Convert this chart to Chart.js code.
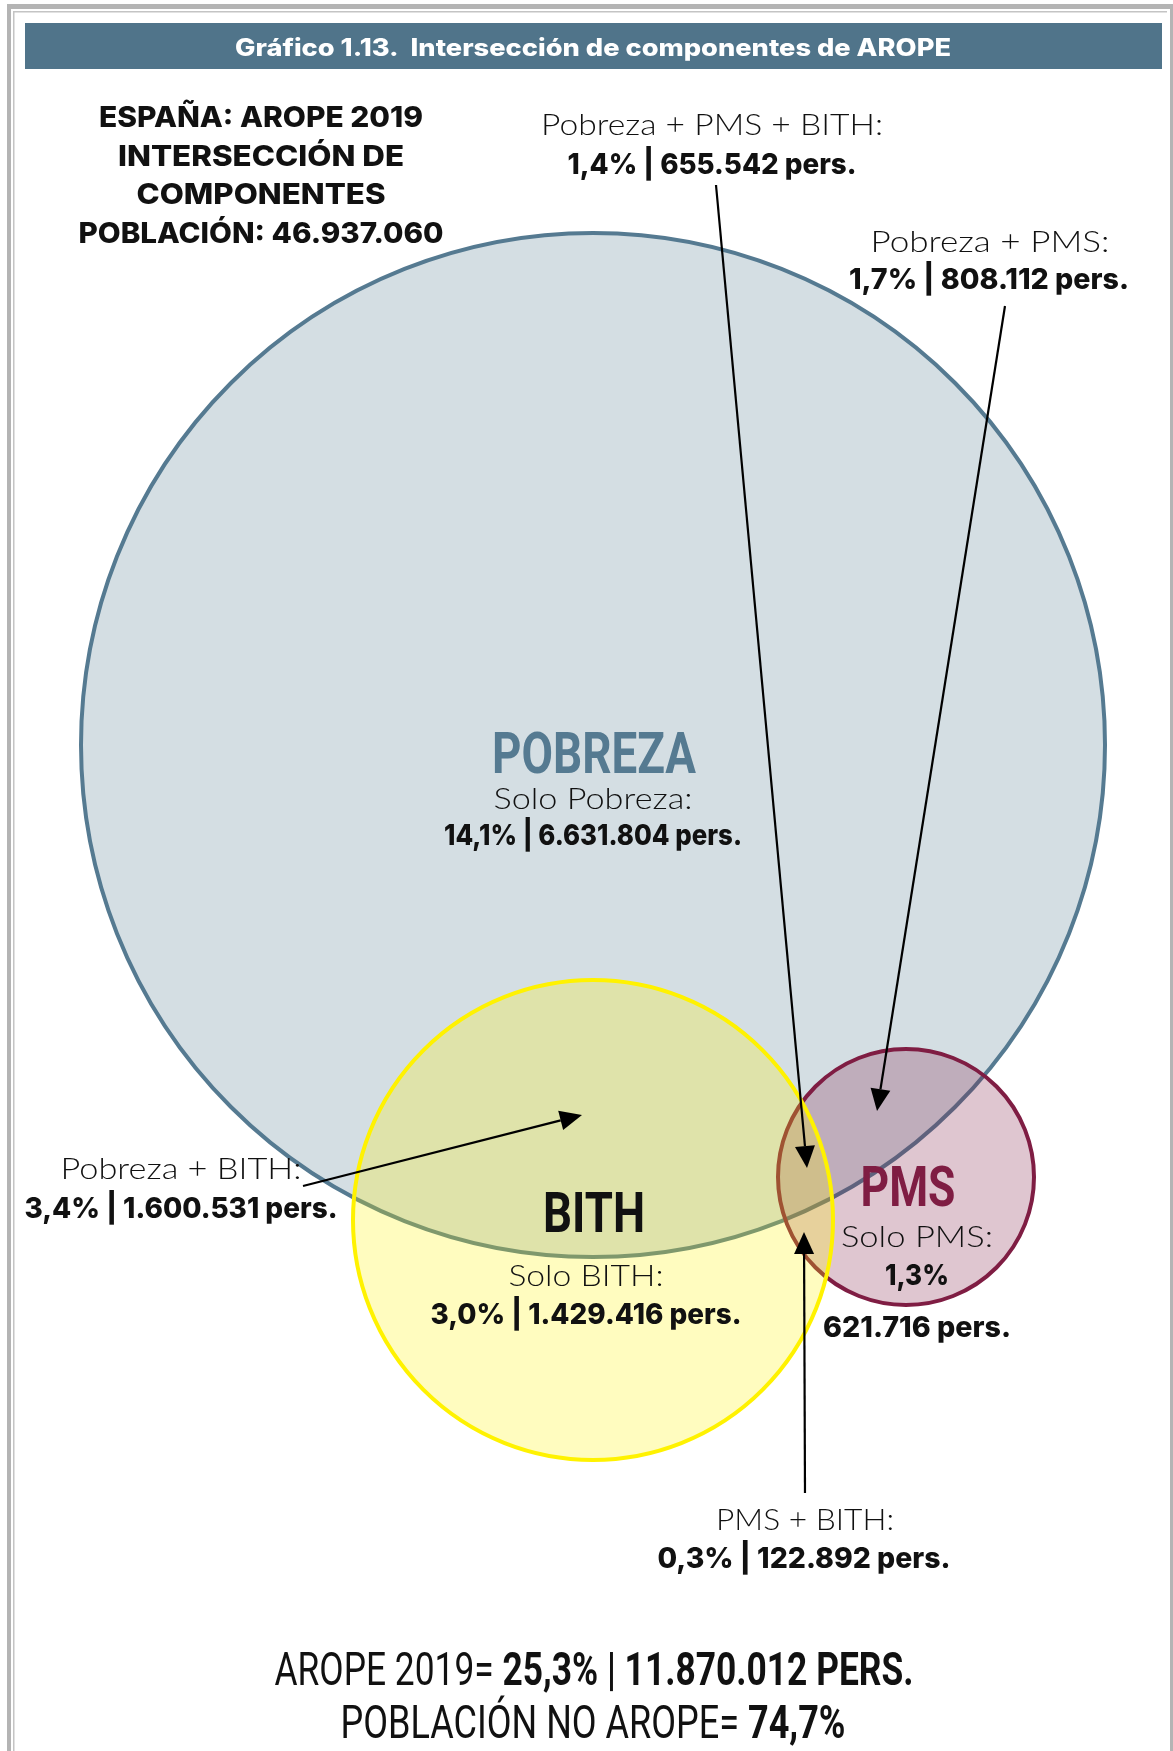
<!DOCTYPE html>
<html>
<head>
<meta charset="utf-8">
<script src="https://cdn.jsdelivr.net/npm/chart.js@4.4.1/dist/chart.umd.min.js"></script>
<style>
  html, body { margin: 0; padding: 0; background: #ffffff; }
  #wrap { position: relative; width: 1173px; height: 1751px; }
  canvas { display: block; }
</style>
</head>
<body>
<div id="wrap"><canvas id="chart" width="1173" height="1751"></canvas></div>
<script>
// ---------------- DATA ----------------
const chartTitle = 'Gráfico 1.13.  Intersección de componentes de AROPE';
const headerLines = ['ESPAÑA: AROPE 2019', 'INTERSECCIÓN DE', 'COMPONENTES'];
const population = 46937060;

const categories = ['POBREZA', 'BITH', 'PMS'];
const soloLabels = ['Solo Pobreza:', 'Solo BITH:', 'Solo PMS:'];
const soloPercent = [14.1, 3.0, 1.3];
const soloPersons = [6631804, 1429416, 621716];

const intersections = ['Pobreza + PMS + BITH:', 'Pobreza + PMS:', 'Pobreza + BITH:', 'PMS + BITH:'];
const intersectionPercent = [1.4, 1.7, 3.4, 0.3];
const intersectionPersons = [655542, 808112, 1600531, 122892];

const aropePercent = 25.3;
const aropePersons = 11870012;
const noAropePercent = 74.7;

// ---------------- LAYOUT / STYLE ----------------
const W = 1173, H = 1751;
const circleGeom = {            // centre and radius in pixel units of the identity scales
  POBREZA: { x: 593, y: 745, r: 512 },
  BITH:    { x: 593, y: 1220, r: 240 },
  PMS:     { x: 906, y: 1177, r: 128 }
};
const circleStyle = {
  POBREZA: { fill: 'rgba(84,122,145,0.25)', stroke: '#557a91', order: 2 },
  BITH:    { fill: 'rgba(255,242,0,0.25)',  stroke: '#fff200', order: 0 },
  PMS:     { fill: 'rgba(127,29,67,0.25)',  stroke: '#7f1d43', order: 1 }
};

function fmtInt(n) {
  return String(Math.round(n)).replace(/\B(?=(\d{3})+(?!\d))/g, '.');
}
function fmtPct(v) {
  return v.toFixed(1).replace('.', ',') + '%';
}

const GEO = 'Lato, "Noto Sans", sans-serif';
const HEAVY = 'Inter, Lato, "Noto Sans", sans-serif';
const COND = 'Roboto, "Liberation Sans", sans-serif';
const light = s => `300 ${s}px ${GEO}`;
const bold = s => `800 ${s}px ${HEAVY}`;
const condR = s => `400 ${s}px ${COND}`;
const condB = s => `700 ${s}px ${COND}`;

// draws a centred line made of runs, squeezed/stretched horizontally to a target width
function drawRuns(ctx, runs, cx, baseline, width) {
  ctx.save();
  ctx.textBaseline = 'alphabetic';
  ctx.textAlign = 'left';
  let total = 0;
  const ws = runs.map(r => { ctx.font = r.font; const w = ctx.measureText(r.text).width; total += w; return w; });
  const sx = width ? width / total : 1;
  ctx.translate(cx, baseline);
  ctx.scale(sx, 1);
  let x = -total / 2;
  runs.forEach((r, i) => {
    ctx.font = r.font;
    ctx.fillStyle = r.color || '#111111';
    ctx.fillText(r.text, x, 0);
    x += ws[i];
  });
  ctx.restore();
}

function arrow(ctx, xs, ys, x0, y0, x1, y1) {
  const ax = xs.getPixelForValue(x0), ay = ys.getPixelForValue(y0);
  const bx = xs.getPixelForValue(x1), by = ys.getPixelForValue(y1);
  const ang = Math.atan2(by - ay, bx - ax);
  const len = 22, half = 10;
  const hx = bx - len * Math.cos(ang), hy = by - len * Math.sin(ang);
  ctx.save();
  ctx.strokeStyle = '#000';
  ctx.fillStyle = '#000';
  ctx.lineWidth = 2.2;
  ctx.beginPath();
  ctx.moveTo(ax, ay);
  ctx.lineTo(hx, hy);
  ctx.stroke();
  ctx.beginPath();
  ctx.moveTo(bx, by);
  ctx.lineTo(hx + half * Math.sin(ang), hy - half * Math.cos(ang));
  ctx.lineTo(hx - half * Math.sin(ang), hy + half * Math.cos(ang));
  ctx.closePath();
  ctx.fill();
  ctx.restore();
}

const framePlugin = {
  id: 'frame',
  beforeDraw(chart) {
    const ctx = chart.ctx;
    ctx.save();
    ctx.fillStyle = '#ffffff';
    ctx.fillRect(0, 0, W, H);
    // outer frame
    ctx.fillStyle = '#b4b4b4';
    ctx.fillRect(7, 4, W - 7, 5);
    ctx.fillRect(7, 4, 4, H - 4);
    ctx.fillRect(W - 3, 4, 3, H - 4);
    // inner thin line
    ctx.fillStyle = '#c4c4c4';
    ctx.fillRect(13, 11, W - 13 - 6, 1.5);
    ctx.fillRect(13, 11, 1.5, H - 11);
    // title bar
    ctx.fillStyle = '#50748a';
    ctx.fillRect(25, 23, 1137, 46);
    ctx.restore();
    drawRuns(ctx, [{ text: chartTitle, font: bold(24), color: '#ffffff' }], 593, 56, 716);
  }
};

const labelPlugin = {
  id: 'labels',
  afterDatasetsDraw(chart) {
    const ctx = chart.ctx;
    const xs = chart.scales.x, ys = chart.scales.y;
    const X = v => xs.getPixelForValue(v), Y = v => ys.getPixelForValue(v);

    // arrows
    arrow(ctx, xs, ys, 716, 185, 807, 1168);
    arrow(ctx, xs, ys, 1005, 306, 877, 1111);
    arrow(ctx, xs, ys, 303, 1186, 582, 1115);
    arrow(ctx, xs, ys, 805, 1493, 804, 1232);

    // header block
    drawRuns(ctx, [{ text: headerLines[0], font: bold(29) }], X(261), Y(127), 324);
    drawRuns(ctx, [{ text: headerLines[1], font: bold(29) }], X(261), Y(166), 286);
    drawRuns(ctx, [{ text: headerLines[2], font: bold(29) }], X(261), Y(204), 249);
    drawRuns(ctx, [{ text: 'POBLACIÓN: ' + fmtInt(population), font: bold(29) }], X(261), Y(243), 365);

    // intersections
    const line2 = i => fmtPct(intersectionPercent[i]) + ' | ' + fmtInt(intersectionPersons[i]) + ' pers.';
    drawRuns(ctx, [{ text: intersections[0], font: light(30) }], X(712), Y(135), 342);
    drawRuns(ctx, [{ text: line2(0), font: bold(29) }], X(712), Y(174), 289);
    drawRuns(ctx, [{ text: intersections[1], font: light(30) }], X(990), Y(252), 239);
    drawRuns(ctx, [{ text: line2(1), font: bold(29) }], X(989), Y(289), 280);
    drawRuns(ctx, [{ text: intersections[2], font: light(30) }], X(181), Y(1179), 241);
    drawRuns(ctx, [{ text: line2(2), font: bold(29) }], X(181), Y(1218), 313);
    drawRuns(ctx, [{ text: intersections[3], font: light(30) }], X(805), Y(1530), 178);
    drawRuns(ctx, [{ text: line2(3), font: bold(29) }], X(804), Y(1568), 293);

    // circle labels
    const solo2 = i => fmtPct(soloPercent[i]) + ' | ' + fmtInt(soloPersons[i]) + ' pers.';
    drawRuns(ctx, [{ text: categories[0], font: condB(58), color: '#557a91' }], X(594), Y(773), 204);
    drawRuns(ctx, [{ text: soloLabels[0], font: light(30) }], X(593), Y(809), 199);
    drawRuns(ctx, [{ text: solo2(0), font: bold(29) }], X(593), Y(845), 298);

    drawRuns(ctx, [{ text: categories[1], font: condB(55), color: '#111111' }], X(594), Y(1232), 102);
    drawRuns(ctx, [{ text: soloLabels[1], font: light(30) }], X(586), Y(1286), 155);
    drawRuns(ctx, [{ text: solo2(1), font: bold(29) }], X(586), Y(1324), 311);

    drawRuns(ctx, [{ text: categories[2], font: condB(55), color: '#7f1d43' }], X(908), Y(1206), 95);
    drawRuns(ctx, [{ text: soloLabels[2], font: light(30) }], X(917), Y(1247), 152);
    drawRuns(ctx, [{ text: fmtPct(soloPercent[2]), font: bold(29) }], X(917), Y(1285), 64);
    drawRuns(ctx, [{ text: fmtInt(soloPersons[2]) + ' pers.', font: bold(29) }], X(917), Y(1337), 188);

    // totals
    drawRuns(ctx, [
      { text: 'AROPE 2019= ', font: condR(47) },
      { text: fmtPct(aropePercent) + ' | ' + fmtInt(aropePersons) + ' PERS.', font: condB(47) }
    ], X(594), Y(1685), 639);
    drawRuns(ctx, [
      { text: 'POBLACIÓN NO AROPE= ', font: condR(47) },
      { text: fmtPct(noAropePercent), font: condB(47) }
    ], X(593), Y(1738), 505);
  }
};

const datasets = categories.map(c => ({
  label: c,
  data: [{ x: circleGeom[c].x, y: circleGeom[c].y, r: circleGeom[c].r }],
  backgroundColor: circleStyle[c].fill,
  borderColor: circleStyle[c].stroke,
  hoverBackgroundColor: circleStyle[c].fill,
  hoverBorderColor: circleStyle[c].stroke,
  borderWidth: 4,
  hoverBorderWidth: 4,
  clip: false,
  order: circleStyle[c].order
}));

new Chart(document.getElementById('chart').getContext('2d'), {
  type: 'bubble',
  data: { datasets },
  options: {
    responsive: false,
    animation: false,
    devicePixelRatio: 1,
    events: [],
    layout: { autoPadding: false, padding: 0 },
    plugins: { legend: { display: false }, tooltip: { enabled: false }, title: { display: false } },
    scales: {
      x: { type: 'linear', min: 0, max: W, display: false, offset: false },
      y: { type: 'linear', min: 0, max: H, reverse: true, display: false, offset: false }
    }
  },
  plugins: [framePlugin, labelPlugin]
});
</script>
</body>
</html>
